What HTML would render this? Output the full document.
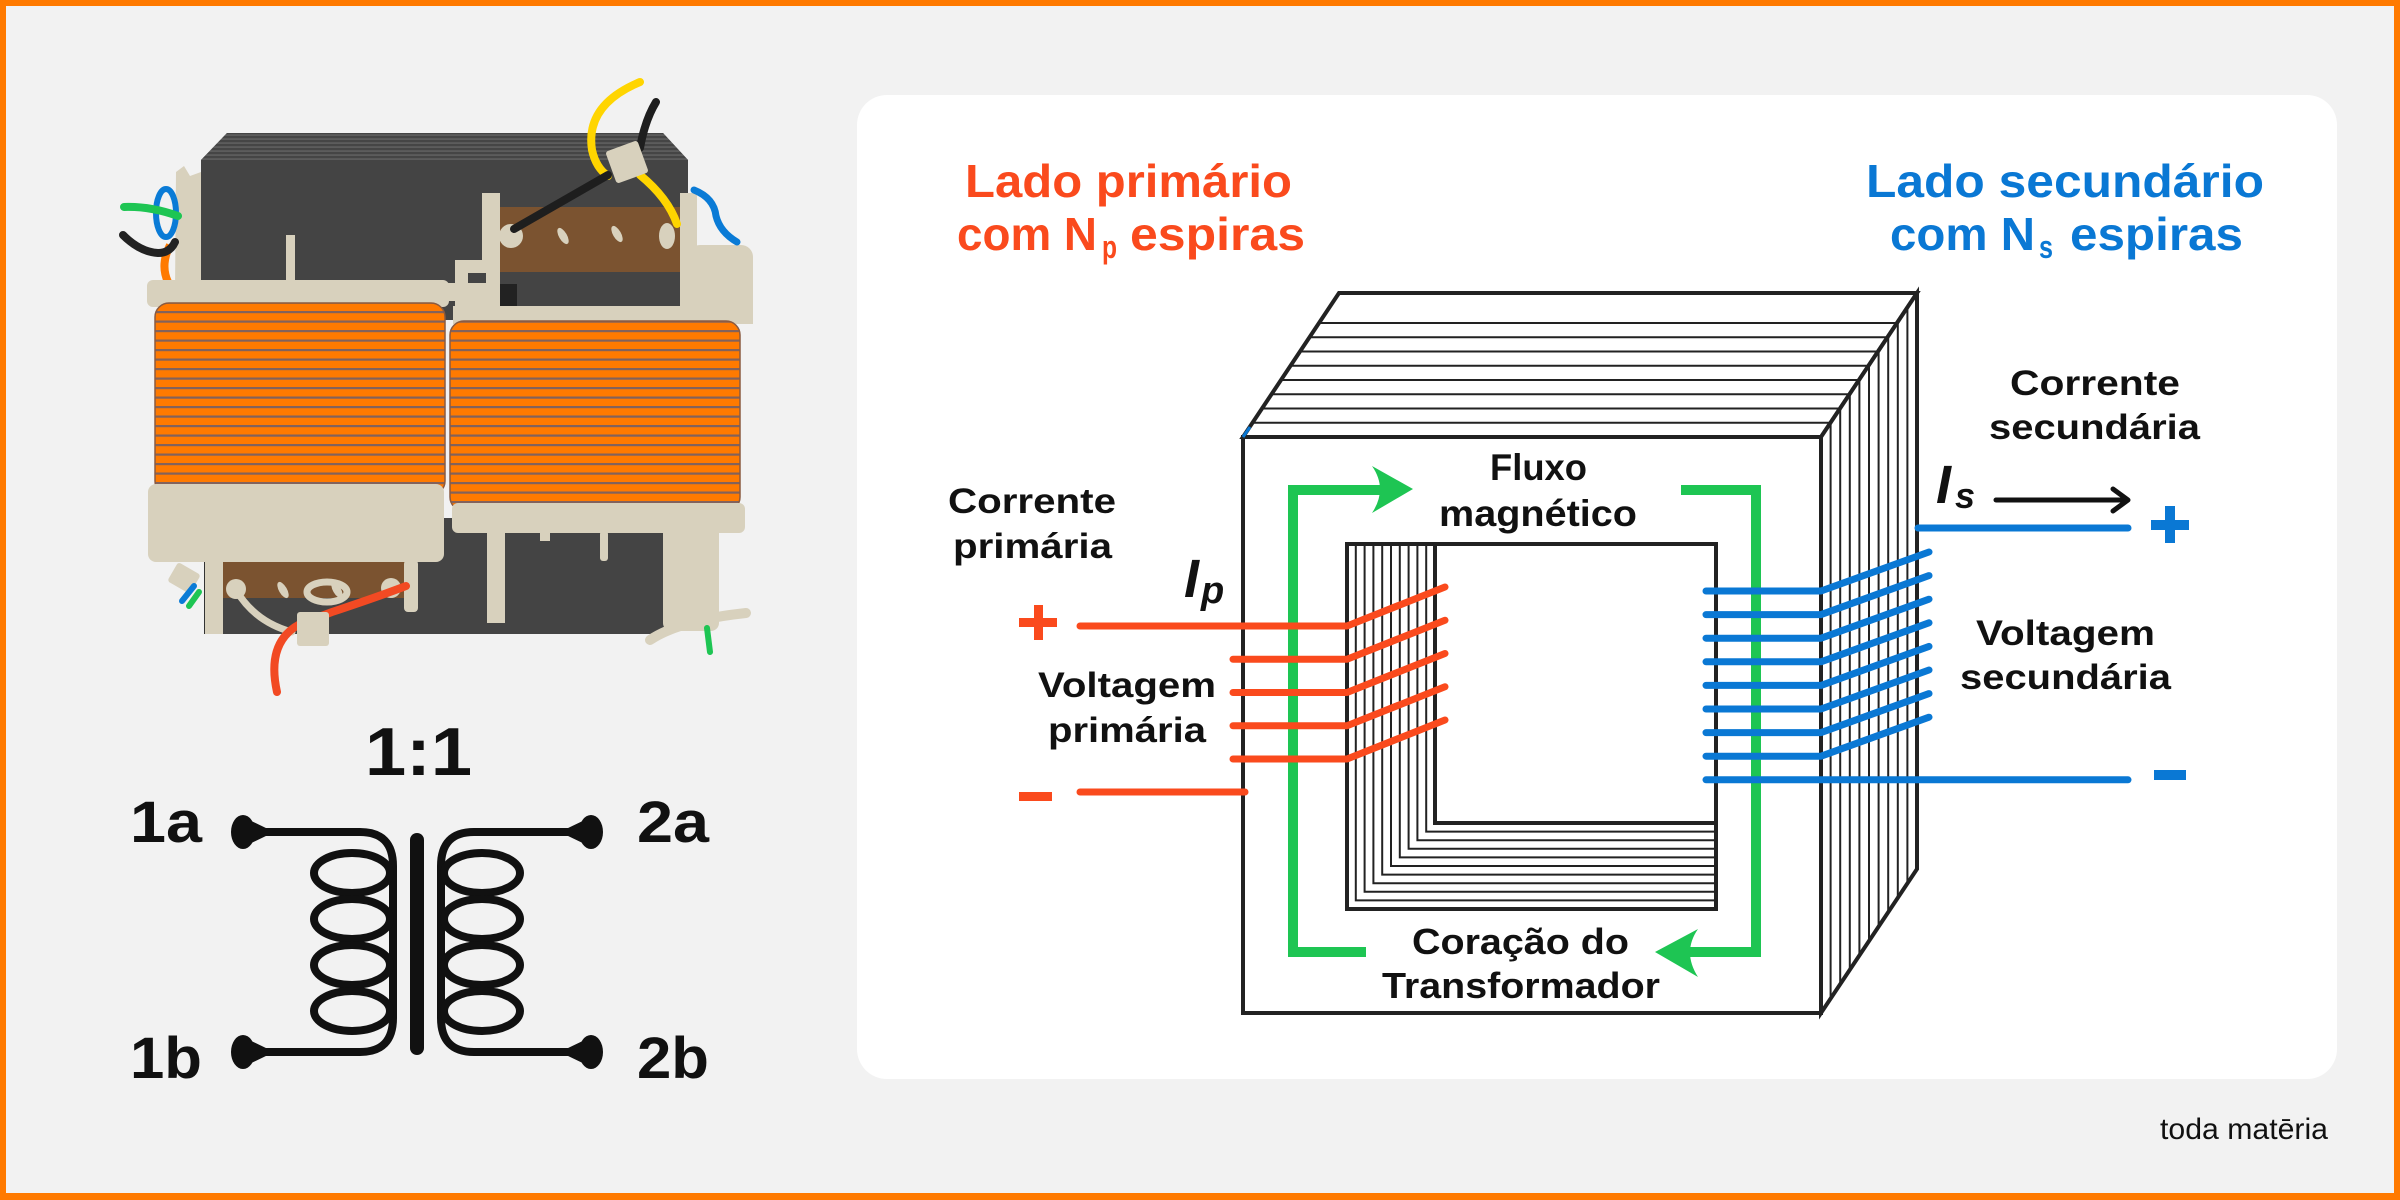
<!DOCTYPE html>
<html>
<head>
<meta charset="utf-8">
<style>
html,body{margin:0;padding:0;width:2400px;height:1200px;overflow:hidden;background:#f2f2f2;}
svg{display:block;}
text{font-family:"Liberation Sans",Arial,sans-serif;}
</style>
</head>
<body>
<svg xmlns="http://www.w3.org/2000/svg" width="2400" height="1200" viewBox="0 0 2400 1200">
<defs>
  <pattern id="coil" patternUnits="userSpaceOnUse" width="20" height="9.5">
    <rect width="20" height="9.5" fill="#ff7a00"/>
    <rect y="7" width="20" height="2.2" fill="#82625c"/>
  </pattern>
  <pattern id="lam" patternUnits="userSpaceOnUse" width="10" height="4">
    <rect width="10" height="4" fill="#454545"/>
    <rect y="2.5" width="10" height="1.1" fill="#6a6a6a"/>
  </pattern>
</defs>

<!-- frame -->
<rect width="2400" height="1200" fill="#ff7a00"/>
<rect x="6" y="6" width="2388" height="1187" fill="#f2f2f2"/>

<!-- card -->
<rect x="857" y="95" width="1480" height="984" rx="30" fill="#ffffff"/>

<!-- ============ Transformer illustration ============ -->
<g>
  <polygon points="227,133 663,133 688,160 688,320 201,320 201,160" fill="#444"/>
  <polygon points="227,133 663,133 688,160 201,160" fill="url(#lam)"/>
  <rect x="204" y="518" width="462" height="116" fill="#444"/>
  <rect x="204" y="518" width="6" height="116" fill="#333"/>

  <path d="M170 245 Q160 265 168 282" fill="none" stroke="#ff7a00" stroke-width="8"/>
  <polygon points="176,172 184,166 190,176 201,172 201,292 175,292" fill="#d8d1bd"/>
  <rect x="286" y="235" width="9" height="52" fill="#d8d1bd"/>
  <rect x="147" y="280" width="302" height="27" rx="6" fill="#d8d1bd"/>
  <rect x="440" y="283" width="30" height="18" rx="6" fill="#d8d1bd"/>

  <rect x="500" y="207" width="182" height="66" fill="#7b5330"/>
  <rect x="500" y="272" width="188" height="37" fill="#444"/>
  <rect x="500" y="284" width="17" height="25" fill="#222"/>
  <rect x="482" y="193" width="18" height="130" fill="#d8d1bd"/>
  <rect x="680" y="193" width="17" height="122" fill="#d8d1bd"/>
  <rect x="455" y="260" width="30" height="63" fill="#d8d1bd"/>
  <rect x="468" y="273" width="18" height="10" fill="#444"/>
  <rect x="688" y="245" width="65" height="78" rx="12" fill="#d8d1bd"/>
  <rect x="453" y="306" width="300" height="18" fill="#d8d1bd"/>
  <circle cx="511" cy="236" r="12" fill="#d8d1bd"/>
  <ellipse cx="563" cy="236" rx="4" ry="9" transform="rotate(-30 563 236)" fill="#d8d1bd"/>
  <ellipse cx="617" cy="234" rx="4" ry="9" transform="rotate(-30 617 234)" fill="#d8d1bd"/>
  <ellipse cx="667" cy="236" rx="8" ry="13" fill="#d8d1bd"/>

  <rect x="155" y="303" width="290" height="192" rx="14" fill="url(#coil)" stroke="#8a5a40" stroke-width="1.5"/>
  <rect x="450" y="321" width="290" height="190" rx="14" fill="url(#coil)" stroke="#8a5a40" stroke-width="1.5"/>

  <rect x="148" y="484" width="296" height="78" rx="8" fill="#d8d1bd"/>
  <rect x="452" y="503" width="293" height="30" rx="6" fill="#d8d1bd"/>

  <rect x="223" y="562" width="187" height="36" fill="#7b5330"/>
  <rect x="205" y="560" width="18" height="74" fill="#d8d1bd"/>
  <rect x="404" y="560" width="14" height="52" rx="4" fill="#d8d1bd"/>
  <circle cx="236" cy="589" r="10" fill="#d8d1bd"/>
  <circle cx="391" cy="588" r="10" fill="#d8d1bd"/>
  <ellipse cx="283" cy="590" rx="4" ry="9" transform="rotate(-30 283 590)" fill="#d8d1bd"/>
  <ellipse cx="337" cy="590" rx="4" ry="9" transform="rotate(-30 337 590)" fill="#d8d1bd"/>

  <rect x="487" y="531" width="18" height="92" fill="#d8d1bd"/>
  <rect x="600" y="531" width="8" height="30" rx="3" fill="#d8d1bd"/>
  <rect x="540" y="531" width="10" height="10" fill="#d8d1bd"/>
  <rect x="663" y="513" width="56" height="118" rx="8" fill="#d8d1bd"/>

  <path d="M640 82 Q585 105 592 150 Q596 168 608 176" fill="none" stroke="#ffd500" stroke-width="8" stroke-linecap="round"/>
  <path d="M640 175 Q668 198 677 224" fill="none" stroke="#ffd500" stroke-width="8" stroke-linecap="round"/>
  <path d="M656 102 Q645 120 640 148" fill="none" stroke="#1e1e1e" stroke-width="8" stroke-linecap="round"/>
  <path d="M608 175 L514 229" fill="none" stroke="#1e1e1e" stroke-width="8" stroke-linecap="round"/>
  <rect x="610" y="145" width="34" height="34" rx="3" transform="rotate(-20 627 162)" fill="#d8d1bd"/>
  <path d="M694 190 Q714 198 716 216 Q720 232 737 242" fill="none" stroke="#0a7bd6" stroke-width="7" stroke-linecap="round"/>

  <ellipse cx="166" cy="213" rx="10" ry="24" fill="none" stroke="#0a7bd6" stroke-width="6"/>
  <path d="M124 207 Q150 206 178 216" fill="none" stroke="#1ec553" stroke-width="8" stroke-linecap="round"/>
  <path d="M123 235 Q140 252 158 253 Q170 253 175 242" fill="none" stroke="#222" stroke-width="8" stroke-linecap="round"/>

  <path d="M236 590 Q255 622 292 632" fill="none" stroke="#d8d1bd" stroke-width="7" stroke-linecap="round"/>
  <ellipse cx="327" cy="592" rx="20" ry="10" fill="none" stroke="#d8d1bd" stroke-width="7"/>
  <path d="M277 692 Q266 642 300 624 L332 612 Q380 596 406 586" fill="none" stroke="#f24a23" stroke-width="8" stroke-linecap="round"/>
  <rect x="297" y="612" width="32" height="34" rx="3" fill="#d8d1bd"/>
  <rect x="171" y="567" width="26" height="22" rx="3" transform="rotate(30 184 578)" fill="#d8d1bd"/>
  <path d="M182 601 L194 586" stroke="#0a7bd6" stroke-width="6" stroke-linecap="round"/>
  <path d="M189 606 L199 592" stroke="#1ec553" stroke-width="6" stroke-linecap="round"/>
  <path d="M650 640 Q680 620 746 613" fill="none" stroke="#d8d1bd" stroke-width="10" stroke-linecap="round"/>
  <path d="M707 628 L710 652" stroke="#1ec553" stroke-width="6" stroke-linecap="round"/>
</g>

<!-- ============ Transformer symbol ============ -->
<text x="365" y="775" font-size="68" font-weight="bold" fill="#111" textLength="107" lengthAdjust="spacingAndGlyphs">1:1</text>
<text x="130" y="842" font-size="58" font-weight="bold" fill="#111" textLength="72" lengthAdjust="spacingAndGlyphs">1a</text>
<text x="130" y="1078" font-size="58" font-weight="bold" fill="#111" textLength="72" lengthAdjust="spacingAndGlyphs">1b</text>
<text x="637" y="842" font-size="58" font-weight="bold" fill="#111" textLength="72" lengthAdjust="spacingAndGlyphs">2a</text>
<text x="637" y="1078" font-size="58" font-weight="bold" fill="#111" textLength="72" lengthAdjust="spacingAndGlyphs">2b</text>
<g fill="none" stroke="#111" stroke-width="8">
  <path d="M262 832 H360 Q393 832 393 866 V1018 Q393 1052 360 1052 H262"/>
  <ellipse cx="352" cy="873" rx="38" ry="20"/>
  <ellipse cx="352" cy="919" rx="38" ry="20"/>
  <ellipse cx="352" cy="965" rx="38" ry="20"/>
  <ellipse cx="352" cy="1011" rx="38" ry="20"/>
  <path d="M572 832 H474 Q441 832 441 866 V1018 Q441 1052 474 1052 H572"/>
  <ellipse cx="482" cy="873" rx="38" ry="20"/>
  <ellipse cx="482" cy="919" rx="38" ry="20"/>
  <ellipse cx="482" cy="965" rx="38" ry="20"/>
  <ellipse cx="482" cy="1011" rx="38" ry="20"/>
</g>
<rect x="410" y="833" width="14" height="222" rx="7" fill="#111"/>
<g fill="#111">
  <ellipse cx="243" cy="832" rx="12" ry="17"/>
  <polygon points="243,817 268,829 268,835 243,847"/>
  <ellipse cx="243" cy="1052" rx="12" ry="17"/>
  <polygon points="243,1037 268,1049 268,1055 243,1067"/>
  <ellipse cx="591" cy="832" rx="12" ry="17"/>
  <polygon points="591,817 566,829 566,835 591,847"/>
  <ellipse cx="591" cy="1052" rx="12" ry="17"/>
  <polygon points="591,1037 566,1049 566,1055 591,1067"/>
</g>

<!-- ============ Core diagram ============ -->
<g fill="#fff" stroke="#222" stroke-width="4" stroke-linejoin="miter">
  <polygon points="1243,437 1339,293 1917,293 1821,437"/>
  <polygon points="1821,437 1917,293 1917,869 1821,1013"/>
  <rect x="1243" y="437" width="578" height="576"/>
</g>
<g stroke="#222" stroke-width="2" fill="none">
  <line x1="1319" y1="323" x2="1897" y2="323"/>
  <line x1="1309.5" y1="337.25" x2="1887.5" y2="337.25"/>
  <line x1="1300" y1="351.5" x2="1878" y2="351.5"/>
  <line x1="1290.5" y1="365.75" x2="1868.5" y2="365.75"/>
  <line x1="1281" y1="380" x2="1859" y2="380"/>
  <line x1="1271.5" y1="394.25" x2="1849.5" y2="394.25"/>
  <line x1="1262" y1="408.5" x2="1840" y2="408.5"/>
  <line x1="1252.5" y1="422.75" x2="1830.5" y2="422.75"/>
  <line x1="1830.6" y1="422.6" x2="1830.6" y2="998.6"/>
  <line x1="1840.2" y1="408.2" x2="1840.2" y2="984.2"/>
  <line x1="1849.8" y1="393.8" x2="1849.8" y2="969.8"/>
  <line x1="1859.4" y1="379.4" x2="1859.4" y2="955.4"/>
  <line x1="1869" y1="365" x2="1869" y2="941"/>
  <line x1="1878.6" y1="350.6" x2="1878.6" y2="926.6"/>
  <line x1="1888.2" y1="336.2" x2="1888.2" y2="912.2"/>
  <line x1="1897.8" y1="321.8" x2="1897.8" y2="897.8"/>
  <line x1="1907.4" y1="307.4" x2="1907.4" y2="883.4"/>
  <path d="M1355.8 544 V900.4 H1716"/>
  <path d="M1364.6 544 V891.8 H1716"/>
  <path d="M1373.4 544 V883.2 H1716"/>
  <path d="M1382.2 544 V874.6 H1716"/>
  <path d="M1391 544 V866 H1716"/>
  <path d="M1399.8 544 V857.4 H1716"/>
  <path d="M1408.6 544 V848.8 H1716"/>
  <path d="M1417.4 544 V840.2 H1716"/>
  <path d="M1426.2 544 V831.6 H1716"/>
</g>
<rect x="1347" y="544" width="369" height="365" fill="none" stroke="#222" stroke-width="4"/>
<path d="M1435 544 V823 H1716" fill="none" stroke="#222" stroke-width="4"/>
<line x1="1243" y1="437" x2="1250" y2="427" stroke="#0a78d4" stroke-width="3"/>

<!-- green flux loop -->
<g fill="none" stroke="#1ec553" stroke-width="10">
  <path d="M1366 952 H1293 V490 H1385"/>
  <path d="M1681 490 H1756 V952 H1688"/>
</g>
<path d="M1372 466 L1413 489 L1372 513 Q1388 489 1372 466 Z" fill="#1ec553"/>
<path d="M1698 929 L1655 952 L1698 977 Q1682 952 1698 929 Z" fill="#1ec553"/>

<!-- red primary windings -->
<g fill="none" stroke="#fa4a1d" stroke-width="7" stroke-linecap="round" stroke-linejoin="round">
  <path d="M1080 626 H1347 L1445 587"/>
  <path d="M1233 659.25 H1347 L1445 620.25"/>
  <path d="M1233 692.5 H1347 L1445 653.5"/>
  <path d="M1233 725.75 H1347 L1445 686.75"/>
  <path d="M1233 759 H1347 L1445 720"/>
  <path d="M1080 792 H1245"/>
</g>

<!-- blue secondary windings -->
<g fill="none" stroke="#0a78d4" stroke-width="7" stroke-linecap="round" stroke-linejoin="round">
  <path d="M1706 591 H1821 L1929 552"/>
  <path d="M1706 614.6 H1821 L1929 575.6"/>
  <path d="M1706 638.2 H1821 L1929 599.2"/>
  <path d="M1706 661.8 H1821 L1929 622.8"/>
  <path d="M1706 685.4 H1821 L1929 646.4"/>
  <path d="M1706 709 H1821 L1929 670"/>
  <path d="M1706 732.6 H1821 L1929 693.6"/>
  <path d="M1706 756.2 H1821 L1929 717.2"/>
  <path d="M1706 779.8 H2128"/>
  <path d="M1918 528 H2128"/>
</g>

<!-- signs -->
<rect x="1019" y="618" width="38" height="9" fill="#fa4a1d"/>
<rect x="1034" y="605" width="9" height="35" fill="#fa4a1d"/>
<rect x="1019" y="792" width="33" height="9" fill="#fa4a1d"/>
<rect x="2151" y="520" width="38" height="10" fill="#0a78d4"/>
<rect x="2165" y="506" width="10" height="37" fill="#0a78d4"/>
<rect x="2154" y="770" width="32" height="10" fill="#0a78d4"/>

<!-- Is arrow -->
<path d="M1996 500 H2126" stroke="#111" stroke-width="5" stroke-linecap="round"/>
<path d="M2113 489 L2128 500 L2113 511" fill="none" stroke="#111" stroke-width="5" stroke-linecap="round" stroke-linejoin="round"/>

<!-- headers -->
<g fill="#fa4a1d" font-weight="bold">
  <text x="965" y="197" font-size="46" textLength="327" lengthAdjust="spacingAndGlyphs">Lado primário</text>
  <text x="957" y="250" font-size="46" textLength="140" lengthAdjust="spacingAndGlyphs">com N</text>
  <text x="1102" y="258" font-size="32" textLength="15" lengthAdjust="spacingAndGlyphs">p</text>
  <text x="1130" y="250" font-size="46" textLength="175" lengthAdjust="spacingAndGlyphs">espiras</text>
</g>
<g fill="#0a78d4" font-weight="bold">
  <text x="1866" y="197" font-size="46" textLength="398" lengthAdjust="spacingAndGlyphs">Lado secundário</text>
  <text x="1890" y="250" font-size="46" textLength="145" lengthAdjust="spacingAndGlyphs">com N</text>
  <text x="2039" y="258" font-size="32" textLength="14" lengthAdjust="spacingAndGlyphs">s</text>
  <text x="2070" y="250" font-size="46" textLength="173" lengthAdjust="spacingAndGlyphs">espiras</text>
</g>

<!-- labels -->
<g fill="#111" font-weight="bold">
  <text x="948" y="513" font-size="35" textLength="168" lengthAdjust="spacingAndGlyphs">Corrente</text>
  <text x="953" y="558" font-size="35" textLength="159" lengthAdjust="spacingAndGlyphs">primária</text>
  <text x="1038" y="697" font-size="35" textLength="178" lengthAdjust="spacingAndGlyphs">Voltagem</text>
  <text x="1048" y="742" font-size="35" textLength="158" lengthAdjust="spacingAndGlyphs">primária</text>
  <text x="2010" y="395" font-size="35" textLength="170" lengthAdjust="spacingAndGlyphs">Corrente</text>
  <text x="1989" y="439" font-size="35" textLength="211" lengthAdjust="spacingAndGlyphs">secundária</text>
  <text x="1976" y="645" font-size="35" textLength="179" lengthAdjust="spacingAndGlyphs">Voltagem</text>
  <text x="1960" y="689" font-size="35" textLength="211" lengthAdjust="spacingAndGlyphs">secundária</text>
  <text x="1490" y="480" font-size="37" textLength="97" lengthAdjust="spacingAndGlyphs">Fluxo</text>
  <text x="1439" y="526" font-size="37" textLength="198" lengthAdjust="spacingAndGlyphs">magnético</text>
  <text x="1412" y="954" font-size="36" textLength="217" lengthAdjust="spacingAndGlyphs">Coração do</text>
  <text x="1382" y="998" font-size="36" textLength="278" lengthAdjust="spacingAndGlyphs">Transformador</text>
  <text x="1184" y="597" font-size="54" font-style="italic">I</text>
  <text x="1201" y="603" font-size="38" font-style="italic">p</text>
  <text x="1936" y="503" font-size="54" font-style="italic">I</text>
  <text x="1955" y="508" font-size="36" font-style="italic">s</text>
</g>

<!-- logo -->
<text x="2160" y="1139" font-size="30" fill="#111" textLength="168" lengthAdjust="spacingAndGlyphs">toda matēria</text>
</svg>
</body>
</html>
